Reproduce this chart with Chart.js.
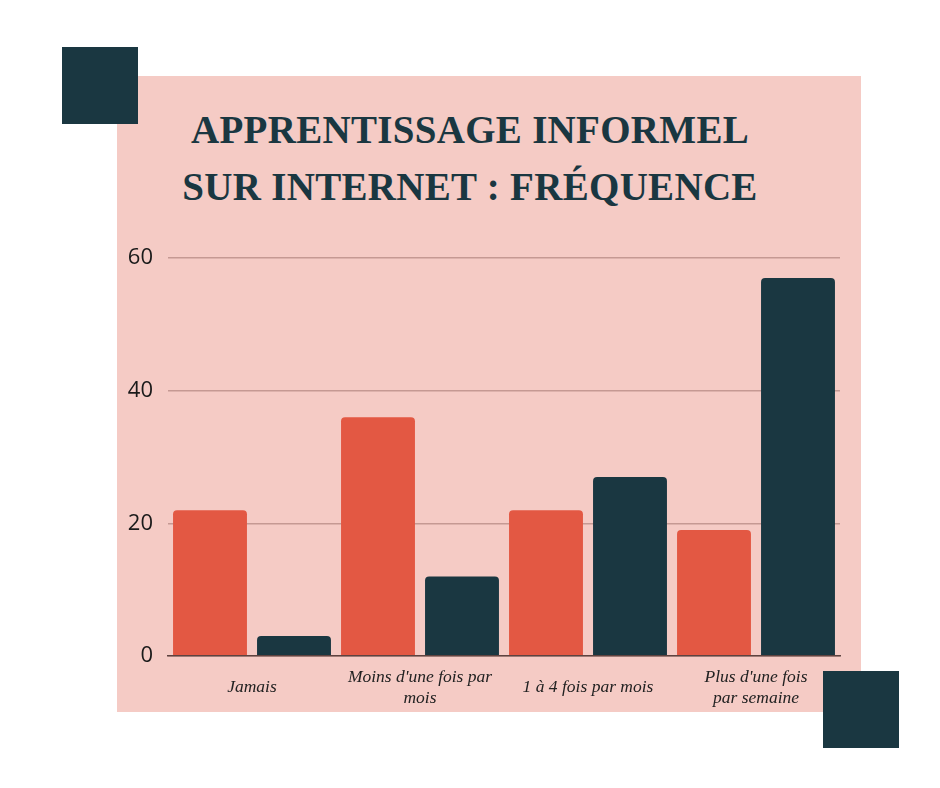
<!DOCTYPE html>
<html lang="fr">
<head>
<meta charset="utf-8">
<title>Apprentissage informel sur internet : fréquence</title>
<script src="https://cdn.jsdelivr.net/npm/chart.js@4.4.1/dist/chart.umd.min.js"></script>
<style>
    html, body { margin: 0; padding: 0; background: #ffffff; }
    #page { position: relative; width: 940px; height: 788px; overflow: hidden; }
    .panel { position: absolute; left: 117px; top: 76px; width: 744px; height: 636px; background: #f5cbc5; }
    .square { position: absolute; width: 76px; height: 77px; background: #1a3741; }
    #sqTop { left: 62px; top: 47px; }
    #sqBottom { left: 823px; top: 671px; z-index: 3; }
    h1 {
        position: absolute; left: 0; top: 101px; width: 940px; margin: 0;
        text-align: center; color: #1a3741;
        font-family: "Liberation Serif", serif; font-weight: bold; font-size: 39px;
        line-height: 57px; letter-spacing: 0.3px;
    }
    #chartBox { position: absolute; left: 117px; top: 230px; width: 744px; height: 482px; z-index: 2; }
</style>
</head>
<body>
<div id="page">
    <div class="panel"></div>
    <div class="square" id="sqTop"></div>
    <h1>APPRENTISSAGE INFORMEL<br>SUR INTERNET : FRÉQUENCE</h1>
    <div id="chartBox"><canvas id="freqChart"></canvas></div>
    <div class="square" id="sqBottom"></div>
</div>

<script>
// données
const categories = [
    "Jamais",
    ["Moins d'une fois par", "mois"],
    "1 à 4 fois par mois",
    ["Plus d'une fois", "par semaine"]
];
const serieA = [22, 36, 22, 19];
const serieB = [3, 12, 27, 57];
const yTicks = [0, 20, 40, 60];

const RED = "#e35843";
const DARK = "#1a3741";

new Chart(document.getElementById("freqChart"), {
    type: "bar",
    data: {
        labels: categories,
        datasets: [
            { label: "Série 1", data: serieA, backgroundColor: RED, borderRadius: 4, borderSkipped: "start" },
            { label: "Série 2", data: serieB, backgroundColor: DARK, borderRadius: 4, borderSkipped: "start" }
        ]
    },
    options: {
        responsive: true,
        maintainAspectRatio: false,
        animation: false,
        layout: { padding: { top: 24, right: 21, left: 0, bottom: 0 } },
        datasets: { bar: { categoryPercentage: 1, barPercentage: 0.88 } },
        plugins: {
            legend: { display: false },
            title: { display: false },
            tooltip: { enabled: false }
        },
        scales: {
            x: {
                afterFit: s => { s.height = 56; },
                grid: { display: false, drawTicks: false },
                border: { display: true, color: "#5e4340", width: 1.5, z: 1 },
                ticks: {
                    color: "#222222",
                    padding: 21,
                    maxRotation: 0,
                    autoSkip: false,
                    crossAlign: "center",
                    font: { family: "'Liberation Serif', serif", style: "italic", size: 17.5, lineHeight: 1.2 }
                }
            },
            y: {
                z: 1,
                min: 0,
                max: 60,
                afterFit: s => { s.width = 51; },
                afterBuildTicks: s => { s.ticks = yTicks.map(v => ({ value: v })); },
                border: { display: false },
                grid: {
                    drawTicks: false,
                    color: "rgba(110, 60, 55, 0.35)",
                    lineWidth: 1.5
                },
                ticks: {
                    color: "#1a1a1a",
                    padding: 15,
                    font: { family: "'Open Sans', sans-serif", size: 22 }
                }
            }
        }
    }
});
</script>
</body>
</html>
